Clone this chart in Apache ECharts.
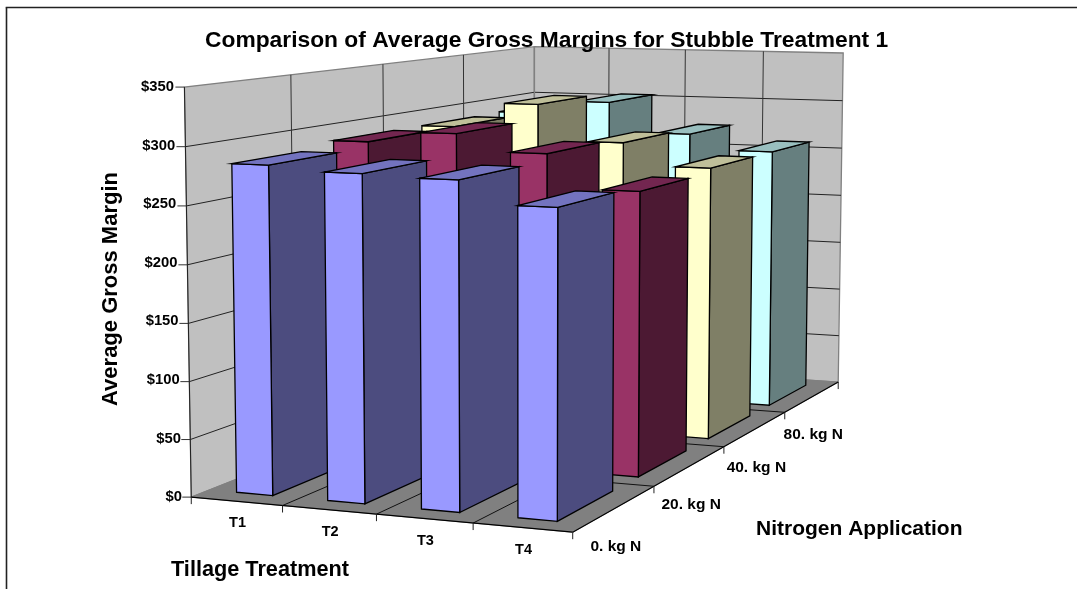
<!DOCTYPE html>
<html><head><meta charset="utf-8">
<style>html,body{margin:0;padding:0;background:#fff}#c{width:1077px;height:589px}</style>
<script src="https://cdn.jsdelivr.net/npm/echarts@6/dist/echarts.min.js"></script></head>
<body><div id="c"></div>
<script>
const tillage=['T1','T2','T3','T4'];
const nitrogen=['0. kg N','20. kg N','40. kg N','80. kg N'];
const yTicks=[0,50,100,150,200,250,300,350];
const n0=[284,280,278,259];
const n20=[289,299,284,254];
const n40=[289,313,279,258];
const n80=[290,303,273,258];
const rows=[n0,n20,n40,n80];
const faceColors=['#9999ff','#993366','#ffffcc','#ccffff'];
const sideColors=['#4c4c7f','#4c1933','#7f7f66','#667f7f'];
const topColors=['#7373bf','#732650','#bfbf99','#99bfbf'];
const CAL=[[0,0,0,191,497],[1,0,0,283,505.4],[2,0,0,376,514],[3,0,0,473,523],[4,0,0,574,532],[4,1,0,653,487],[4,2,0,724,447],[4,3,0,785,412],[4,4,0,838,382],
[0,0,1,185,87],[0,1,1,290,75],[0,2,1,383,64],[0,3,1,463,55],[0,4,1,535,47],[1,4,1,609,48],[2,4,1,686,50],[3,4,1,763,51],[4,4,1,843,53]];
function solve(){const N=11,A=[...Array(N)].map(()=>Array(N+1).fill(0));
 function add(r,t){for(let i=0;i<N;i++){for(let j=0;j<N;j++)A[i][j]+=r[i]*r[j];A[i][N]+=r[i]*t;}}
 CAL.forEach(([u,v,w,x,y])=>{add([u,v,w,1,0,0,0,0,-x*u,-x*v,-x*w],x);add([0,0,0,0,u,v,w,1,-y*u,-y*v,-y*w],y);});
 for(let i=0;i<N;i++){let m=i;for(let k=i+1;k<N;k++)if(Math.abs(A[k][i])>Math.abs(A[m][i]))m=k;[A[i],A[m]]=[A[m],A[i]];
  for(let k=0;k<N;k++)if(k!==i){const f=A[k][i]/A[i][i];for(let j=i;j<=N;j++)A[k][j]-=f*A[i][j];}}
 return A.map((r,i)=>r[N]/r[i]);}
const p=solve();
function P(u,v,w){const d=p[8]*u+p[9]*v+p[10]*w+1;return[(p[0]*u+p[1]*v+p[2]*w+p[3])/d,(p[4]*u+p[5]*v+p[6]*w+p[7])/d];}
const U0=.3,U1=.7,V0=.167,V1=.833;
const GT=87,GH=410;
const F='"Liberation Sans",Arial,sans-serif';
function poly(pts,fill,stroke,lw){return{type:'polygon',shape:{points:pts},style:{fill,stroke,lineWidth:lw}};}
function line(a,b,stroke,lw){return{type:'line',shape:{x1:a[0],y1:a[1],x2:b[0],y2:b[1]},style:{stroke,lineWidth:lw}};}
function label(t,x,y,size){return{type:'text',style:{text:t,x,y,align:'center',verticalAlign:'middle',fill:'#000',font:'bold '+size+'px '+F}};}
function renderBase(params,api){
 const c=[];const A=P(0,0,0),D=P(0,4,0),C=P(4,4,0),B=P(4,0,0),At=P(0,0,1),Dt=P(0,4,1),Ct=P(4,4,1);
 c.push(poly([A,D,Dt,At],'#c0c0c0','#808080',1.3));
 c.push(poly([D,C,Ct,Dt],'#c0c0c0','#808080',1.3));
 c.push(poly([A,B,C,D],'#808080','#808080',1));
 yTicks.forEach(t=>{const f=(GT+GH-api.coord([0,t])[1])/GH;
  if(t>0&&t<350){c.push(line(P(0,0,f),P(0,4,f),'#222',1));c.push(line(P(0,4,f),P(4,4,f),'#222',1));}
  const a=P(0,0,f);c.push(line(a,[a[0]-9,a[1]],'#333',1));});
 for(let i=1;i<4;i++){c.push(line(P(0,i,0),P(0,i,1),'#333',1));c.push(line(P(i,4,0),P(i,4,1),'#333',1));
  c.push(line(P(i,0,0),P(i,4,0),'#111',1));c.push(line(P(0,i,0),P(4,i,0),'#111',1));}
 c.push(line(A,At,'#222',1));c.push(line(A,B,'#000',1.2));c.push(line(B,C,'#000',1.2));c.push(line(Dt,D,'#808080',1.3));
 for(let i=0;i<=4;i++){const a=P(i,0,0);c.push(line(a,[a[0],a[1]+7],'#222',1));
  if(i>0){const b=P(4,i,0);c.push(line(b,[b[0],b[1]+7],'#222',1));}}
 tillage.forEach((t,i)=>{const a=P(i+.5,0,0);c.push(label(t,a[0]+1,a[1]+22,14.5));});
 nitrogen.forEach((t,i)=>{const a=P(4,i+.5,0);c.push(label(t,a[0]+1,a[1]+38.5,15.5));});
 return{type:'group',children:c};}
function renderBar(r){return function(params,api){
 const i=api.value(0),w=(GT+GH-api.coord([i,api.value(1)])[1])/GH;
 const u0=i+U0,u1=i+U1,v0=r+V0,v1=r+V1;
 return{type:'group',children:[
  poly([P(u1,v0,0),P(u1,v1,0),P(u1,v1,w),P(u1,v0,w)],sideColors[r],'#000',1.3),
  poly([P(u0,v0,0),P(u1,v0,0),P(u1,v0,w),P(u0,v0,w)],faceColors[r],'#000',1.3),
  poly([P(u0,v0,w),P(u1,v0,w),P(u1,v1,w),P(u0,v1,w)],topColors[r],'#000',1.3)]};};}
const richMap={};yTicks.forEach(t=>{richMap['p'+t]={padding:[0,8*t/350,0,0],fontWeight:'bold',fontSize:14.8,fontFamily:F,color:'#000'};});
const series=[{type:'custom',coordinateSystem:'cartesian2d',silent:true,data:[[0,0]],renderItem:renderBase,clip:false,z:1}];
[3,2,1,0].forEach(r=>series.push({type:'custom',name:nitrogen[r],coordinateSystem:'cartesian2d',data:rows[r].map((v,i)=>[i,v]),renderItem:renderBar(r),clip:false,silent:true,z:2}));
const chart=echarts.init(document.getElementById('c'),null,{renderer:'canvas'});
chart.setOption({animation:false,backgroundColor:'#fff',
 title:[{text:'Comparison of Average Gross Margins for Stubble Treatment 1',left:205,top:29,padding:0,textStyle:{fontFamily:F,fontSize:22.8,fontWeight:'bold',color:'#000'}},
  {text:'Tillage Treatment',left:171,top:559,padding:0,textStyle:{fontFamily:F,fontSize:21.7,fontWeight:'bold',color:'#000'}},
  {text:'Nitrogen Application',left:756,top:519,padding:0,textStyle:{fontFamily:F,fontSize:21,fontWeight:'bold',color:'#000'}}],
 grid:{left:191,top:GT,width:380,height:GH,containLabel:false},
 xAxis:{type:'category',data:tillage,show:false},
 yAxis:{type:'value',min:0,max:350,interval:50,name:'Average Gross Margin',nameLocation:'middle',nameGap:69,nameTextStyle:{fontFamily:F,fontSize:22,fontWeight:'bold',color:'#000',padding:[0,0,0,6]},
  axisLine:{show:false},axisTick:{show:false},splitLine:{show:false},
  axisLabel:{margin:9,formatter:v=>'{p'+v+'|$'+v+'}',rich:richMap}},
 series,
 graphic:[{type:'line',shape:{x1:6.5,y1:589,x2:6.5,y2:7.5},style:{stroke:'#222',lineWidth:1.6},z:0},{type:'line',shape:{x1:5.7,y1:7.5,x2:1077,y2:7.5},style:{stroke:'#222',lineWidth:1.6},z:0}]});
</script></body></html>
